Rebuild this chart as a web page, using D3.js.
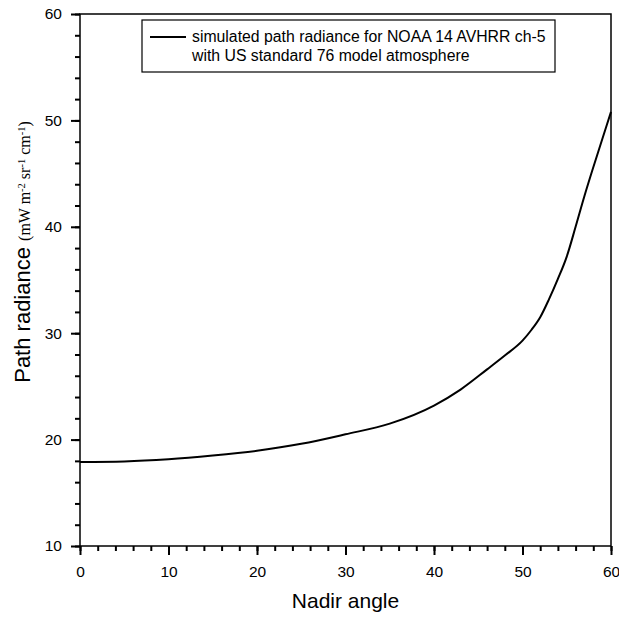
<!DOCTYPE html>
<html>
<head>
<meta charset="utf-8">
<script src="https://cdn.jsdelivr.net/npm/d3@7"></script>
<style>
  body { margin: 0; background: #fff; }
  svg { display: block; }
</style>
</head>
<body>
<div id="chart"></div>
<script>
// valores
const angulos = [0, 5, 10, 15, 20, 25, 30, 35, 40, 43, 46, 48, 50, 51, 52, 53, 54, 55, 56, 57, 58, 59, 60];
const radiancia = [17.9, 17.95, 18.15, 18.5, 18.95, 19.6, 20.5, 21.5, 23.2, 24.7, 26.6, 27.9, 29.3, 30.3, 31.5, 33.2, 35.1, 37.2, 40.0, 42.9, 45.6, 48.2, 50.8];
const xTicks = [0, 10, 20, 30, 40, 50, 60];
const yTicks = [10, 20, 30, 40, 50, 60];
const leyenda = ["simulated path radiance for NOAA 14 AVHRR ch-5", "with US standard 76 model atmosphere"];

const width = 619, height = 619;
const margin = { top: 14, right: 8, bottom: 73, left: 80 };

const svg = d3.select("#chart").append("svg")
    .attr("width", width)
    .attr("height", height);

const x = d3.scaleLinear().domain([0, 60]).range([margin.left, 611]);
const y = d3.scaleLinear().domain([10, 60]).range([546, margin.top]);

const datos = angulos.map((a, i) => ({ a: a, v: radiancia[i] }));

// marco
svg.append("rect")
    .attr("x", x(0)).attr("y", y(60))
    .attr("width", x(60) - x(0)).attr("height", y(10) - y(60))
    .attr("fill", "none").attr("stroke", "#000").attr("stroke-width", 1.5);

// ejes con ticks menores
const xMenor = d3.range(0, 61, 2);
const yMenor = d3.range(10, 61, 2);

svg.append("g").attr("class", "eje").attr("transform", `translate(0,${y(10)})`)
    .call(d3.axisBottom(x).tickValues(xMenor).tickSize(5).tickFormat(""));
svg.append("g").attr("class", "eje").attr("transform", `translate(0,${y(10)})`)
    .call(d3.axisBottom(x).tickValues(xTicks).tickSize(9).tickPadding(11).tickFormat(d3.format("d")));

svg.append("g").attr("class", "eje").attr("transform", `translate(${x(0)},0)`)
    .call(d3.axisLeft(y).tickValues(yMenor).tickSize(5).tickFormat(""));
svg.append("g").attr("class", "eje").attr("transform", `translate(${x(0)},0)`)
    .call(d3.axisLeft(y).tickValues(yTicks).tickSize(9).tickPadding(9).tickFormat(d3.format("d")));

svg.selectAll(".eje .domain").remove();
svg.selectAll(".eje .tick line")
    .attr("stroke", "#000")
    .style("stroke-width", "2px");
svg.selectAll(".eje .tick text")
    .attr("fill", "#000")
    .style("font-family", "Liberation Sans, Arial, sans-serif")
    .style("font-size", "15.5px");

// curva
const linea = d3.line()
    .x(d => x(d.a))
    .y(d => y(d.v))
    .curve(d3.curveMonotoneX);

svg.append("path")
    .datum(datos)
    .attr("fill", "none")
    .attr("stroke", "#000")
    .attr("stroke-width", 2)
    .attr("d", linea);

// leyenda
const ley = svg.append("g");
ley.append("rect")
    .attr("x", 142).attr("y", 20).attr("width", 413).attr("height", 52)
    .attr("fill", "#fff").attr("stroke", "#000").attr("stroke-width", 1.2);
ley.append("line")
    .attr("x1", 150).attr("x2", 186).attr("y1", 37).attr("y2", 37)
    .attr("stroke", "#000").attr("stroke-width", 2);
ley.selectAll("text.ley")
    .data(leyenda)
    .enter().append("text")
    .attr("class", "ley")
    .attr("x", 192)
    .attr("y", (d, i) => 42 + i * 19)
    .style("font-family", "Liberation Sans, Arial, sans-serif")
    .style("font-size", "15.8px")
    .text(d => d);

// títulos de ejes
svg.append("text")
    .attr("x", (x(0) + x(60)) / 2)
    .attr("y", 608)
    .attr("text-anchor", "middle")
    .style("font-family", "Liberation Sans, Arial, sans-serif")
    .style("font-size", "21px")
    .text("Nadir angle");

const ty = svg.append("text")
    .attr("transform", "translate(30,252) rotate(-90)")
    .attr("text-anchor", "middle")
    .style("font-family", "Liberation Sans, Arial, sans-serif")
    .style("font-size", "22px");
ty.append("tspan").text("Path radiance ");
const unidades = ty.append("tspan").style("font-family", "Liberation Serif, Times New Roman, serif").style("font-size", "16px");
unidades.append("tspan").text("(mW m");
unidades.append("tspan").attr("baseline-shift", "super").style("font-size", "10.5px").text("-2");
unidades.append("tspan").text(" sr");
unidades.append("tspan").attr("baseline-shift", "super").style("font-size", "10.5px").text("-1");
unidades.append("tspan").text(" cm");
unidades.append("tspan").attr("baseline-shift", "super").style("font-size", "10.5px").text("-1");
unidades.append("tspan").text(")");
</script>
</body>
</html>
